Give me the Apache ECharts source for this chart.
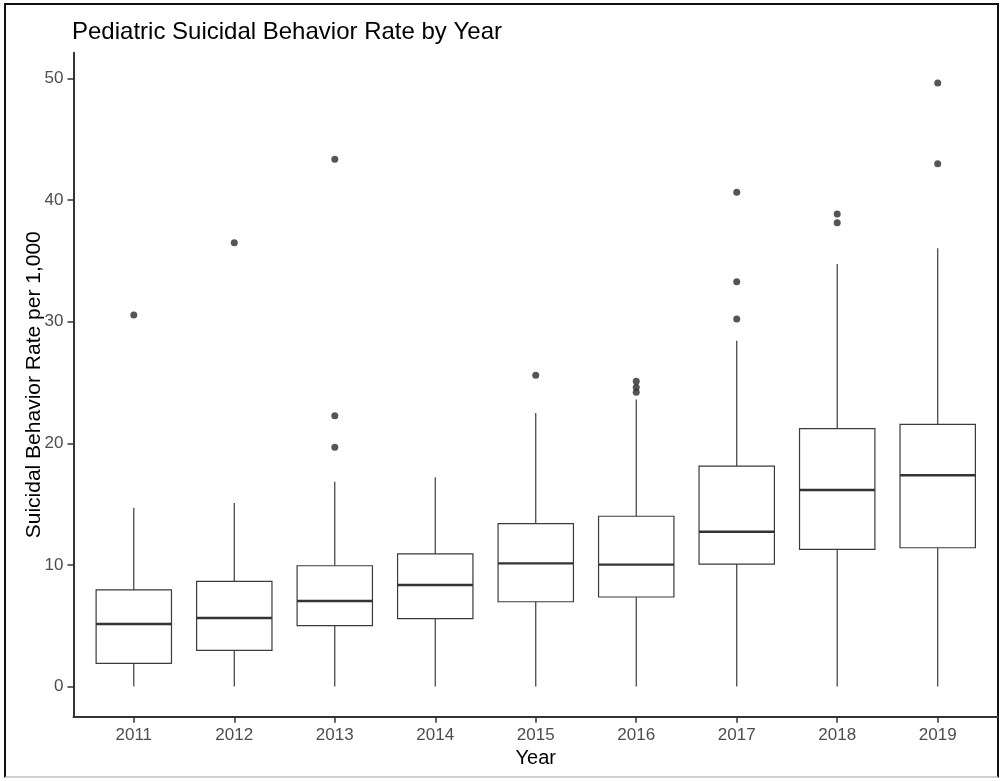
<!DOCTYPE html>
<html>
<head>
<meta charset="utf-8">
<script src="https://cdn.jsdelivr.net/npm/echarts@6/dist/echarts.min.js"></script>
<style>
  html, body { margin: 0; padding: 0; background: #fff; }
  #frame {
    position: absolute; left: 4px; top: 3px; width: 995px; height: 775px;
    border-left: 2px solid #111; border-top: 2px solid #111; border-right: 2px solid #111;
    border-bottom: 2px solid #cfcfcf; box-sizing: border-box;
  }
  #chart { position: absolute; left: 0; top: 0; width: 1003px; height: 781px; }
</style>
</head>
<body>
<div id="frame"></div>
<div id="chart"></div>
<script>
// Year categories along the x axis
const years = ['2011', '2012', '2013', '2014', '2015', '2016', '2017', '2018', '2019'];

// Box-and-whisker summaries per year (rate per 1,000)
const whiskerLow  = [0, 0, 0, 0, 0, 0, 0, 0, 0];
const q1          = [1.90, 2.97, 5.00, 5.58, 6.97, 7.36, 10.07, 11.27, 11.41];
const median      = [5.14, 5.63, 7.03, 8.35, 10.13, 10.02, 12.73, 16.16, 17.37];
const q3          = [7.94, 8.65, 9.93, 10.90, 13.40, 14.00, 18.13, 21.20, 21.56];
const whiskerHigh = [14.7, 15.1, 16.84, 17.2, 22.5, 23.6, 28.44, 34.75, 36.04];

// Outlying observations: year index and value
const outlierIdx = [0, 1, 2, 2, 2, 4, 5, 5, 5, 6, 6, 6, 7, 7, 8, 8];
const outlierVal = [30.55, 36.5, 43.35, 22.27, 19.67, 25.6, 25.1, 24.6, 24.2,
                    40.64, 33.29, 30.22, 38.86, 38.14, 49.63, 42.99];

// Y tick values
const yTicks = [0, 10, 20, 30, 40, 50];
const xTicks = years.map((_, i) => i);

const FONT = "'Liberation Sans', Arial, sans-serif";
const BOX_FRACTION = 0.75;
const STROKE = '#3b3b3b';

const boxData = years.map((_, i) => [i, whiskerLow[i], q1[i], median[i], q3[i], whiskerHigh[i]]);
const outlierData = outlierIdx.map((i, k) => [i, outlierVal[k]]);

// Allow a little room above and below the data
const allVals = [].concat(whiskerLow, whiskerHigh, outlierVal);
const yMinData = Math.min.apply(null, allVals);
const yMaxData = Math.max.apply(null, allVals);
const yPad = (yMaxData - yMinData) * 0.05;

function renderBox(params, api) {
  const x = api.value(0);
  const lo = api.coord([x, api.value(1)]);
  const b1 = api.coord([x, api.value(2)]);
  const md = api.coord([x, api.value(3)]);
  const b3 = api.coord([x, api.value(4)]);
  const hi = api.coord([x, api.value(5)]);
  const half = api.size([BOX_FRACTION, 0])[0] / 2;
  const cx = lo[0];
  return {
    type: 'group',
    children: [
      { type: 'line', shape: { x1: cx, y1: lo[1], x2: cx, y2: b1[1] },
        style: { stroke: STROKE, lineWidth: 1.2 } },
      { type: 'line', shape: { x1: cx, y1: b3[1], x2: cx, y2: hi[1] },
        style: { stroke: STROKE, lineWidth: 1.2 } },
      { type: 'rect', shape: { x: cx - half, y: b3[1], width: 2 * half, height: b1[1] - b3[1] },
        style: { fill: '#fff', stroke: STROKE, lineWidth: 1.2 } },
      { type: 'line', shape: { x1: cx - half, y1: md[1], x2: cx + half, y2: md[1] },
        style: { stroke: '#333', lineWidth: 2.4 } }
    ]
  };
}

const chart = echarts.init(document.getElementById('chart'), null, { renderer: 'canvas' });
chart.setOption({
  animation: false,
  backgroundColor: 'transparent',
  title: {
    text: 'Pediatric Suicidal Behavior Rate by Year',
    left: 72, top: 20, padding: 0,
    textStyle: { color: '#000', fontSize: 24, fontWeight: 'normal', fontFamily: FONT }
  },
  grid: { left: 73.5, right: 5, top: 52.8, bottom: 64.3, containLabel: false },
  xAxis: {
    type: 'value',
    min: -0.6, max: years.length - 1 + 0.6,
    name: 'Year', nameLocation: 'middle', nameGap: 32, nameMoveOverlap: false,
    nameTextStyle: { color: '#000', fontSize: 20, fontFamily: FONT },
    axisLine: { show: true, onZero: false, lineStyle: { color: '#333', width: 2 } },
    axisTick: { show: true, length: 6, customValues: xTicks,
                lineStyle: { color: '#333', width: 1.5 } },
    axisLabel: { customValues: xTicks, formatter: v => years[Math.round(v)],
                 color: '#4d4d4d', fontSize: 17, margin: 10, fontFamily: FONT },
    splitLine: { show: false }
  },
  yAxis: {
    type: 'value',
    min: yMinData - yPad, max: yMaxData + yPad,
    name: 'Suicidal Behavior Rate per 1,000', nameLocation: 'middle', nameGap: 29, nameMoveOverlap: false,
    nameTextStyle: { color: '#000', fontSize: 21, fontFamily: FONT },
    axisLine: { show: true, onZero: false, lineStyle: { color: '#333', width: 2 } },
    axisTick: { show: true, length: 6, customValues: yTicks,
                lineStyle: { color: '#333', width: 1.5 } },
    axisLabel: { customValues: yTicks, color: '#4d4d4d', fontSize: 17, margin: 10, fontFamily: FONT },
    splitLine: { show: false }
  },
  series: [
    {
      type: 'custom',
      renderItem: renderBox,
      encode: { x: 0, y: [1, 2, 3, 4, 5] },
      data: boxData,
      z: 2
    },
    {
      type: 'scatter',
      data: outlierData,
      symbol: 'circle',
      symbolSize: 7,
      itemStyle: { color: '#2b2b2b' },
      z: 3
    }
  ]
});
</script>
</body>
</html>
